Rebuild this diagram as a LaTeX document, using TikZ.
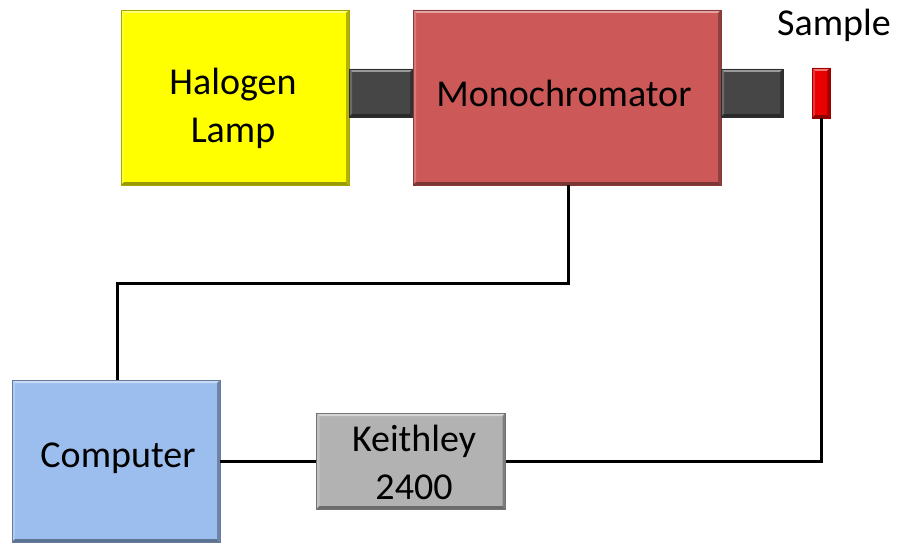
\documentclass[tikz,border=0pt]{standalone}
\usepackage{fontspec}
\setmainfont{Carlito}
\definecolor{lampY}{RGB}{255,255,0}
\definecolor{monoR}{RGB}{205,88,88}
\definecolor{connG}{RGB}{70,70,70}
\definecolor{sampR}{RGB}{235,0,0}
\definecolor{compB}{RGB}{155,190,238}
\definecolor{keithG}{RGB}{178,178,178}
\begin{document}
\begin{tikzpicture}[x=1pt,y=-1pt,
  blk/.style={rectangle,inner sep=0pt,draw=#1!65!black,line width=0.8pt,fill=#1,
    font=\fontsize{38}{48}\selectfont,align=center,
    path picture={
      \fill[#1!55!white] (path picture bounding box.north west) -- (path picture bounding box.north east)
        -- ([xshift=-3pt,yshift=-3pt]path picture bounding box.north east) -- ([xshift=3pt,yshift=-3pt]path picture bounding box.north west) -- cycle;
      \fill[#1!80!white] (path picture bounding box.north west) -- ([xshift=3pt,yshift=-3pt]path picture bounding box.north west)
        -- ([xshift=3pt,yshift=3pt]path picture bounding box.south west) -- (path picture bounding box.south west) -- cycle;
      \fill[#1!60!black] (path picture bounding box.south west) -- (path picture bounding box.south east)
        -- ([xshift=-3pt,yshift=3pt]path picture bounding box.south east) -- ([xshift=3pt,yshift=3pt]path picture bounding box.south west) -- cycle;
      \fill[#1!70!black] (path picture bounding box.north east) -- ([xshift=-3pt,yshift=-3pt]path picture bounding box.north east)
        -- ([xshift=-3pt,yshift=3pt]path picture bounding box.south east) -- (path picture bounding box.south east) -- cycle;
    }},
  lbl/.style={font=\fontsize{38}{48}\selectfont,align=center,inner sep=0pt},
  wire/.style={line width=3pt,black}]
\useasboundingbox (0,0) rectangle (897,543);
\node[blk=lampY,minimum width=228pt,minimum height=175pt] (lamp) at (235,97.5) {};
\node[lbl] (lampt) at (233,108) {Halogen\\Lamp};
\node[blk=connG,minimum width=64pt,minimum height=48pt] (c1) at (381,93) {};
\node[blk=monoR,minimum width=308pt,minimum height=175pt] (mono) at (567,97.5) {};
\node[lbl] (monot) at (564,93) {Monochromator};
\node[blk=connG,minimum width=62pt,minimum height=48pt] (c2) at (752,93) {};
\node[blk=sampR,minimum width=18pt,minimum height=50pt] (samp) at (821,93) {};
\node[lbl] (sampt) at (834,25) {Sample};
\node[blk=compB,minimum width=208pt,minimum height=162pt] (comp) at (116,461) {};
\node[lbl] (compt) at (118,458) {Computer};
\node[blk=keithG,minimum width=189pt,minimum height=96pt] (keith) at (411,461) {};
\node[lbl] (keitht) at (414,462) {Keithley\\2400};
\coordinate (m1) at (568,283);
\coordinate (m2) at (117,283);
\coordinate (s1) at (821,461);
\draw[wire] (mono.south -| m1) -- (m1) -- (m2) -- (comp.north -| m2);
\draw[wire] (comp.east) -- (keith.west);
\draw[wire] (keith.east) -- (s1) -- (samp.south);
\end{tikzpicture}
\end{document}
